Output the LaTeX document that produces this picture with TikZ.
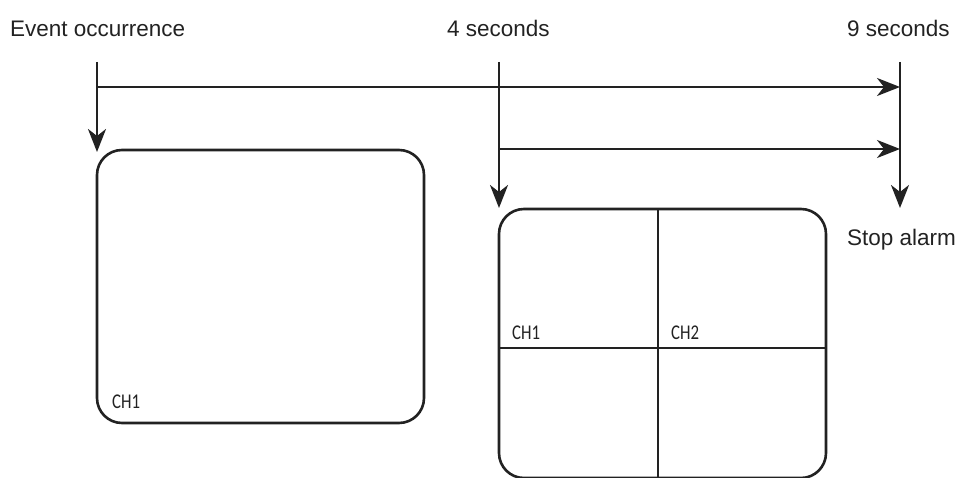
\documentclass[tikz,border=0pt]{standalone}
\usepackage{fontspec}
\setmainfont{Liberation Sans}
\newfontfamily\chfont[FakeStretch=0.8]{Carlito}
\usetikzlibrary{arrows.meta}
\definecolor{ink}{HTML}{222222}
\begin{document}
\begin{tikzpicture}[x=1pt,y=-1pt,
  line/.style={draw=ink,line width=2.6pt},
  arr/.style={line,-{Stealth[length=23pt,width=18pt,inset=7pt]}},
  lbl/.style={inner sep=0pt,anchor=base west,font=\fontsize{22.5}{26}\selectfont,text=ink},
  chlbl/.style={inner sep=0pt,anchor=base west,font=\chfont\fontsize{21}{24}\selectfont,text=ink},
  screen/.style={line,rounded corners=25pt}]
\useasboundingbox (0,0) rectangle (959,478);
% labels
\node[lbl] (ev) at (10,37) {Event occurrence};
\node[lbl] (s4) at (447,37) {4 seconds};
\node[lbl] (s9) at (847,37) {9 seconds};
\node[lbl] (stop) at (847,246) {Stop alarm};
% timeline coordinates
\coordinate (a0) at (97,62);
\coordinate (b0) at (499,62);
\coordinate (c0) at (900,62);
\coordinate (a1) at (97,87);
\coordinate (b2) at (499,149);
\coordinate (c1) at (900,87);
\coordinate (c2) at (900,149);
\coordinate (aend) at (97,152);
\coordinate (bend) at (499,208);
\coordinate (cend) at (900,208);
% screens
\draw[screen] (97,150) rectangle (424,423);
\draw[screen] (499,209) rectangle (826,478);
\coordinate (vt) at (658,209);
\coordinate (vb) at (658,478);
\coordinate (hl) at (499,348);
\coordinate (hr) at (826,348);
\draw[line] (vt) -- (vb);
\draw[line] (hl) -- (hr);
% arrows
\draw[arr] (a0) -- (aend);
\draw[arr] (b0) -- (bend);
\draw[arr] (c0) -- (cend);
\draw[arr] (a1) -- (c1);
\draw[arr] (b2) -- (c2);
% channel labels
\node[chlbl] (l1) at (112,409) {CH1};
\node[chlbl] (r1) at (512,340) {CH1};
\node[chlbl] (r2) at (671,340) {CH2};
\end{tikzpicture}
\end{document}
